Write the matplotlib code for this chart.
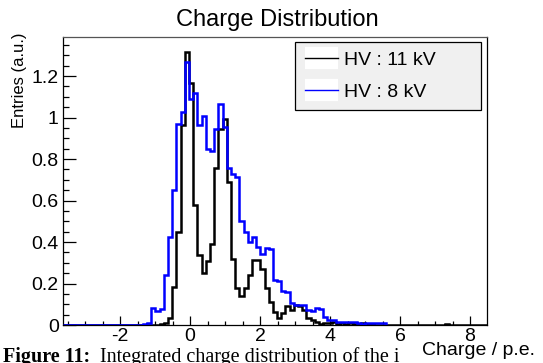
import numpy as np
import matplotlib
matplotlib.use('Agg')
import matplotlib.pyplot as plt
from matplotlib.lines import Line2D
from matplotlib.legend_handler import HandlerTuple
from matplotlib.ticker import FixedLocator, MultipleLocator

plt.rcParams['font.family'] = ['Liberation Sans', 'DejaVu Sans']
plt.rcParams['axes.unicode_minus'] = False

# ---- data ----
bin_start = -3.634
bin_width = 0.12
n_bins = 101

black_first_bin = 23
black_values = [0.004, 0.010, 0.035, 0.185, 0.450, 0.962, 1.317, 1.165, 0.578, 0.337,
                0.250, 0.310, 0.390, 0.755, 0.945, 0.995, 0.690, 0.320, 0.180, 0.140,
                0.180, 0.240, 0.315, 0.313, 0.270, 0.177, 0.112, 0.063, 0.036, 0.058,
                0.092, 0.072, 0.096, 0.090, 0.074, 0.032, 0.024, 0.014, 0.006, 0.012,
                0.010, 0.013, 0.007, 0.011, 0.006, 0.010, 0.004, 0.007, 0.009, 0.003,
                0.005, 0.0, 0.0, 0.0, 0.0, 0.0, 0.0, 0.0, 0.0, 0.0,
                0.0, 0.0, 0.0, 0.0, 0.0, 0.0, 0.0, 0.0, 0.006]

blue_first_bin = 19
blue_values = [0.006, 0.012, 0.080, 0.068, 0.075, 0.240, 0.425, 0.650, 0.970, 1.025,
               1.268, 1.090, 1.120, 0.962, 1.007, 0.847, 0.840, 0.945, 1.067, 0.955,
               0.755, 0.730, 0.715, 0.503, 0.450, 0.400, 0.426, 0.377, 0.342, 0.370,
               0.365, 0.215, 0.212, 0.163, 0.160, 0.105, 0.097, 0.097, 0.097, 0.070,
               0.066, 0.080, 0.078, 0.040, 0.024, 0.024, 0.016, 0.015, 0.016, 0.014,
               0.015, 0.008, 0.007, 0.009, 0.012, 0.012, 0.012, 0.011]

series_labels = ['HV : 11 kV', 'HV : 8 kV']
series_colors = ['#000000', '#0000ff']

x_ticks = [-2, 0, 2, 4, 6, 8]
x_ticklabels = ['-2', '0', '2', '4', '6', '8']
y_ticks = [0, 0.2, 0.4, 0.6, 0.8, 1.0, 1.2]
y_ticklabels = ['0', '0.2', '0.4', '0.6', '0.8', '1', '1.2']

title = 'Charge Distribution'
xlabel = 'Charge / p.e.'
ylabel = 'Entries (a.u.)'
caption_head = 'Figure 11:'
caption_body = 'Integrated charge distribution of the i'

# ---- build histograms ----
edges_all = bin_start + bin_width * np.arange(n_bins + 1)
black_full = np.zeros(n_bins)
black_full[black_first_bin:black_first_bin + len(black_values)] = black_values
n_blue = blue_first_bin + len(blue_values)
blue_full = np.zeros(n_blue)
blue_full[blue_first_bin:] = blue_values
edges_blue = edges_all[:n_blue + 1]

W, H = 543, 363
fig = plt.figure(figsize=(W / 100, H / 100), dpi=100)
ax = fig.add_axes([63 / W, 38 / H, 424 / W, 288 / H])

ax.stairs(black_full, edges_all, color=series_colors[0], lw=1.8, baseline=0, zorder=2)
ax.stairs(blue_full, edges_blue, color=series_colors[1], lw=1.8, baseline=0, zorder=3)

ax.set_xlim(edges_all[0], edges_all[-1])
ax.set_ylim(0, 1.388)

ax.xaxis.set_major_locator(FixedLocator(x_ticks))
ax.set_xticklabels(x_ticklabels)
ax.xaxis.set_minor_locator(MultipleLocator(0.5))
ax.yaxis.set_major_locator(FixedLocator(y_ticks))
ax.set_yticklabels(y_ticklabels)
ax.yaxis.set_minor_locator(MultipleLocator(0.05))

ax.tick_params(axis='both', which='both', direction='in', top=False, right=False,
               labelsize=14, width=0.9, color='black')
ax.tick_params(axis='x', which='major', length=6.2, pad=2)
ax.tick_params(axis='x', which='minor', length=3.1)
ax.tick_params(axis='y', which='major', length=9.0, pad=3)
ax.tick_params(axis='y', which='minor', length=4.6)

for s in ax.spines.values():
    s.set_linewidth(0.9)
    s.set_color('black')
ax.spines['top'].set_color('#555555')

# legend: white sample box behind a thin coloured line
def sample(color):
    bg = Line2D([], [], color='white', lw=16, solid_capstyle='butt')
    fg = Line2D([], [], color=color, lw=1.0)
    return (bg, fg)

leg = ax.legend([sample(series_colors[0]), sample(series_colors[1])], series_labels,
                handler_map={tuple: HandlerTuple(ndivide=1, pad=0)},
                loc='upper left', bbox_to_anchor=(0.547, 0.984, 0.439, 0.0),
                mode='expand', borderaxespad=0, fontsize=14,
                handlelength=1.7, handleheight=0.7, handletextpad=0.3,
                borderpad=0.5, labelspacing=0.72,
                fancybox=False, framealpha=1, facecolor='#f0f0f0', edgecolor='black')
leg.get_frame().set_linewidth(0.9)
leg.set_zorder(5)

fig.text(0.51, 1 - 26 / H, title, ha='center', va='baseline', fontsize=17)
fig.text(535 / W, 1 - 355 / H, xlabel, ha='right', va='baseline', fontsize=14)
fig.text(20 / W, 1 - 33 / H, ylabel, ha='center', va='top', rotation=90, fontsize=12)

serif = ['Liberation Serif', 'DejaVu Serif']
fig.text(3 / W, 1 - 362 / H, caption_head, ha='left', va='baseline', fontsize=14.5,
         fontweight='bold', family=serif)
fig.text(100 / W, 1 - 362 / H, caption_body, ha='left', va='baseline', fontsize=14.5,
         family=serif)

fig.savefig('out.png', dpi=100)
